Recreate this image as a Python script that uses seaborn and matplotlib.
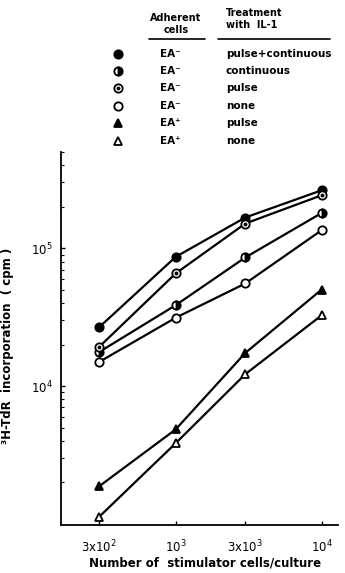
import numpy as np
import pandas as pd
import matplotlib
matplotlib.use("Agg")
import matplotlib.pyplot as plt
import seaborn as sns

# stimulator cells per culture
cells = [300, 1000, 3000, 10000]

# 3H-TdR incorporation (cpm)
pulse_cont = [26800, 86500, 167000, 263000]
continuous = [17700, 38600, 85700, 180000]
pulse = [19300, 65600, 151000, 242000]
none_neg = [15000, 31300, 55500, 135000]
pulse_pos = [1880, 4850, 17400, 50100]
none_pos = [1130, 3850, 12200, 32600]

series_names = ["pulse+continuous", "continuous", "pulse", "none-", "pulse+", "none+"]
series_vals = [pulse_cont, continuous, pulse, none_neg, pulse_pos, none_pos]
adherent = ["EA\u207b", "EA\u207b", "EA\u207b", "EA\u207b", "EA\u207a", "EA\u207a"]
treatment = ["pulse+continuous", "continuous", "pulse", "none", "pulse", "none"]

x_ticks = [300, 1000, 3000, 10000]
x_ticklabels = [r"3x10$^2$", r"10$^3$", r"3x10$^3$", r"10$^4$"]
y_ticks = [1e4, 1e5]
y_ticklabels = [r"10$^4$", r"10$^5$"]

# marker styles per series
styles = {
    "pulse+continuous": dict(marker="o", mfc="black", fillstyle="full"),
    "continuous": dict(marker="o", mfc="black", fillstyle="right", markerfacecoloralt="white"),
    "pulse": dict(marker="o", mfc="white", fillstyle="full"),
    "none-": dict(marker="o", mfc="white", fillstyle="full"),
    "pulse+": dict(marker="^", mfc="black", fillstyle="full"),
    "none+": dict(marker="^", mfc="white", fillstyle="full"),
}

rows = []
for name, vals in zip(series_names, series_vals):
    for c, v in zip(cells, vals):
        rows.append({"cells": c, "cpm": v, "series": name})
df = pd.DataFrame(rows)

sns.set_style("ticks")
plt.rcParams["font.family"] = ["DejaVu Sans"]
plt.rcParams["text.color"] = "black"
plt.rcParams["axes.labelcolor"] = "black"
plt.rcParams["xtick.color"] = "black"
plt.rcParams["ytick.color"] = "black"
plt.rcParams["axes.edgecolor"] = "black"

fig = plt.figure(figsize=(3.45, 5.73), dpi=100)
ax = fig.add_axes([0.177, 0.084, 0.803, 0.651])

sns.lineplot(data=df, x="cells", y="cpm", hue="series", units="series", estimator=None,
             palette=["black"] * 6, legend=False, linewidth=1.6, ax=ax)

for name in series_names:
    d = df[df["series"] == name]
    st = styles[name]
    ax.plot(d["cells"], d["cpm"], linestyle="none", marker=st["marker"], markersize=6,
            markerfacecolor=st["mfc"], markeredgecolor="black", markeredgewidth=1.3,
            fillstyle=st["fillstyle"], markerfacecoloralt=st.get("markerfacecoloralt", "white"),
            zorder=5)
    if name == "pulse":
        ax.plot(d["cells"], d["cpm"], linestyle="none", marker="o", markersize=1.8,
                color="black", zorder=6)

ax.set_xscale("log")
ax.set_yscale("log")
ax.set_xlim(164, 12970)
ax.set_ylim(985, 5e5)
ax.set_xticks(x_ticks)
ax.set_xticklabels(x_ticklabels, fontsize=8.5)
ax.xaxis.set_minor_locator(matplotlib.ticker.NullLocator())
ax.set_yticks(y_ticks)
ax.set_yticklabels(y_ticklabels, fontsize=8.5)
ax.tick_params(axis="both", which="major", direction="in", length=3, width=1, pad=6)
ax.tick_params(axis="y", which="minor", direction="in", length=2, width=0.8)
ax.tick_params(axis="x", which="major", pad=10)
sns.despine(ax=ax)
for s in ["left", "bottom"]:
    ax.spines[s].set_linewidth(1.3)

ax.set_xlabel("Number of  stimulator cells/culture", fontsize=8.5, fontweight="bold")
ax.set_ylabel("\u00b3H-TdR  incorporation  ( cpm )", fontsize=8.5, fontweight="bold")
ax.xaxis.set_label_coords(0.52, -0.085)
ax.yaxis.set_label_coords(-0.17, 0.48)

# legend table drawn in pixel coordinates on an overlay axes
lg = fig.add_axes([0, 0, 1, 1])
lg.set_xlim(0, 345)
lg.set_ylim(573, 0)
lg.axis("off")
lg.text(176, 18, "Adherent", ha="center", va="center", fontsize=7, fontweight="bold")
lg.text(176, 30, "cells", ha="center", va="center", fontsize=7, fontweight="bold")
lg.text(226, 13, "Treatment", ha="left", va="center", fontsize=7, fontweight="bold")
lg.text(226, 25, "with  IL-1", ha="left", va="center", fontsize=7, fontweight="bold")
lg.plot([149, 205], [39, 39], color="black", lw=1.2)
lg.plot([218, 330], [39, 39], color="black", lw=1.2)
row_y = [54, 71, 88, 106, 123, 141]
for name, ea, tr, yy in zip(series_names, adherent, treatment, row_y):
    st = styles[name]
    lg.plot([118], [yy], linestyle="none", marker=st["marker"], markersize=6,
            markerfacecolor=st["mfc"], markeredgecolor="black", markeredgewidth=1.3,
            fillstyle=st["fillstyle"], markerfacecoloralt=st.get("markerfacecoloralt", "white"))
    if name == "pulse":
        lg.plot([118], [yy], linestyle="none", marker="o", markersize=1.8, color="black")
    lg.text(160, yy, ea, ha="left", va="center", fontsize=7.5, fontweight="bold")
    lg.text(226, yy, tr, ha="left", va="center", fontsize=7.5, fontweight="bold")

fig.savefig("out.png", dpi=100)
